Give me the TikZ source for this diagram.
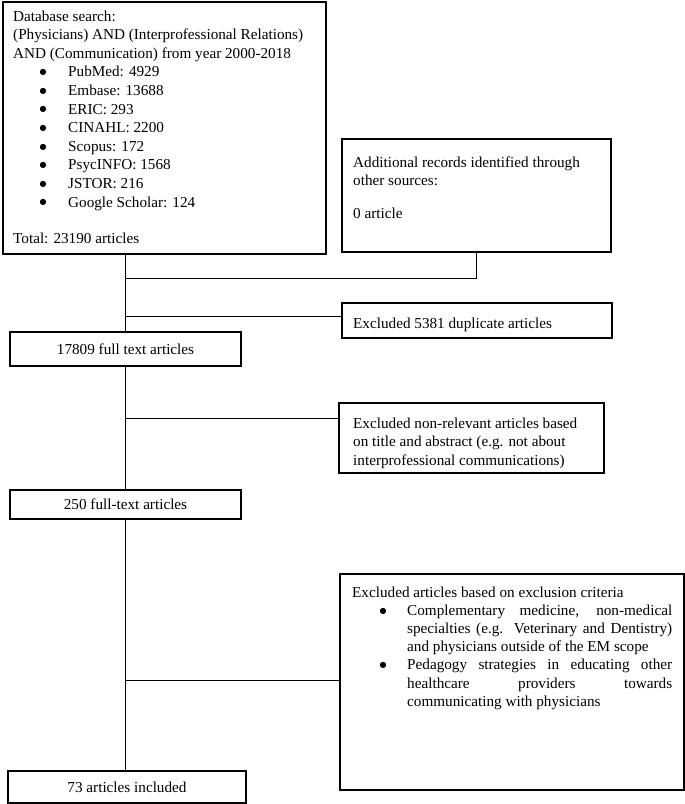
\documentclass[tikz,border=0pt]{standalone}
\usepackage{fontspec}
\setmainfont{Liberation Serif}
\newfontfamily\symfnt{DejaVu Sans}
\newcommand\bigbul{\makebox[0pt]{\raisebox{2.2pt}{\symfnt\fontsize{8}{8}\selectfont ●}}}
\begin{document}
\begin{tikzpicture}[x=1pt,y=-1pt,
  box/.style={draw, line width=1.2pt, inner sep=0pt, rectangle},
  txt/.style={anchor=base west, inner sep=0pt, font=\fontsize{15.2}{18.6}\selectfont},
  ctxt/.style={inner sep=0pt, font=\fontsize{15.2}{18.6}\selectfont},
  conn/.style={draw, line width=0.8pt}]
\useasboundingbox (0,0) rectangle (685,804);
% boxes
\node[box, minimum width=323pt, minimum height=252pt] (b1) at (164.5,128) {};
\node[box, minimum width=269pt, minimum height=113pt] (b2) at (476.5,195.5) {};
\node[box, minimum width=270pt, minimum height=35pt] (b3) at (477,320.5) {};
\node[box, minimum width=231pt, minimum height=34pt] (b4) at (125.5,349) {};
\node[box, minimum width=265pt, minimum height=70pt] (b5) at (471.5,438) {};
\node[box, minimum width=231pt, minimum height=29pt] (b6) at (125.5,504.5) {};
\node[box, minimum width=344pt, minimum height=216pt] (b7) at (512,682) {};
\node[box, minimum width=238pt, minimum height=32pt] (b8) at (127,787) {};
% texts
\node[txt] (t1) at (13,21) {\parbox[t]{310pt}{Database search:\\
(Physicians) AND (Interprofessional Relations)\\
AND (Communication) from year 2000-2018\\
\hspace*{30pt}\bigbul\hspace*{25pt}PubMed: 4929\\
\hspace*{30pt}\bigbul\hspace*{25pt}Embase: 13688\\
\hspace*{30pt}\bigbul\hspace*{25pt}ERIC: 293\\
\hspace*{30pt}\bigbul\hspace*{25pt}CINAHL: 2200\\
\hspace*{30pt}\bigbul\hspace*{25pt}Scopus: 172\\
\hspace*{30pt}\bigbul\hspace*{25pt}PsycINFO: 1568\\
\hspace*{30pt}\bigbul\hspace*{25pt}JSTOR: 216\\
\hspace*{30pt}\bigbul\hspace*{25pt}Google Scholar: 124\\[17.4pt]
Total: 23190 articles}};
\node[txt] (t2) at (353,167) {\parbox[t]{255pt}{Additional records identified through\\
other sources:\\[14.4pt]
0 article}};
\node[txt] (t3) at (353,328) {Excluded 5381 duplicate articles};
\node[ctxt] (t4) at (b4.center) {17809 full text articles};
\node[txt] (t5) at (353,428) {\parbox[t]{250pt}{\baselineskip=18.5pt Excluded non-relevant articles based\\
on title and abstract (e.g. not about\\
interprofessional communications)}};
\node[ctxt] (t6) at (b6.center) {250 full-text articles};
\node[txt] (t7) at (352,597) {\parbox[t]{320pt}{\baselineskip=18.2pt\hbadness=10000
Excluded articles based on exclusion criteria\par
\leftskip=55pt
\noindent\llap{\bigbul\hspace{24pt}}Complementary medicine, non-medical\linebreak
specialties (e.g. Veterinary and Dentistry)\linebreak
and physicians outside of the EM scope\par
\noindent\llap{\bigbul\hspace{24pt}}Pedagogy strategies in educating other\linebreak
healthcare providers towards\linebreak
communicating with physicians\par}};
\node[ctxt] (t8) at (b8.center) {73 articles included};
% junction points on the main line
\coordinate (s1) at (125,278);
\coordinate (s2) at (125,316);
\coordinate (s3) at (125,418);
\coordinate (s4) at (125,680);
% connectors
\draw[conn] (b1.south -| b4.north) -- (b4.north);
\draw[conn] (b2.south) |- (s1);
\draw[conn] (s2) -- (s2 -| b3.west);
\draw[conn] (b4.south) -- (b6.north);
\draw[conn] (s3) -- (s3 -| b5.west);
\draw[conn] (b6.south) -- (b6.south |- b8.north);
\draw[conn] (s4) -- (s4 -| b7.west);
\end{tikzpicture}
\end{document}
